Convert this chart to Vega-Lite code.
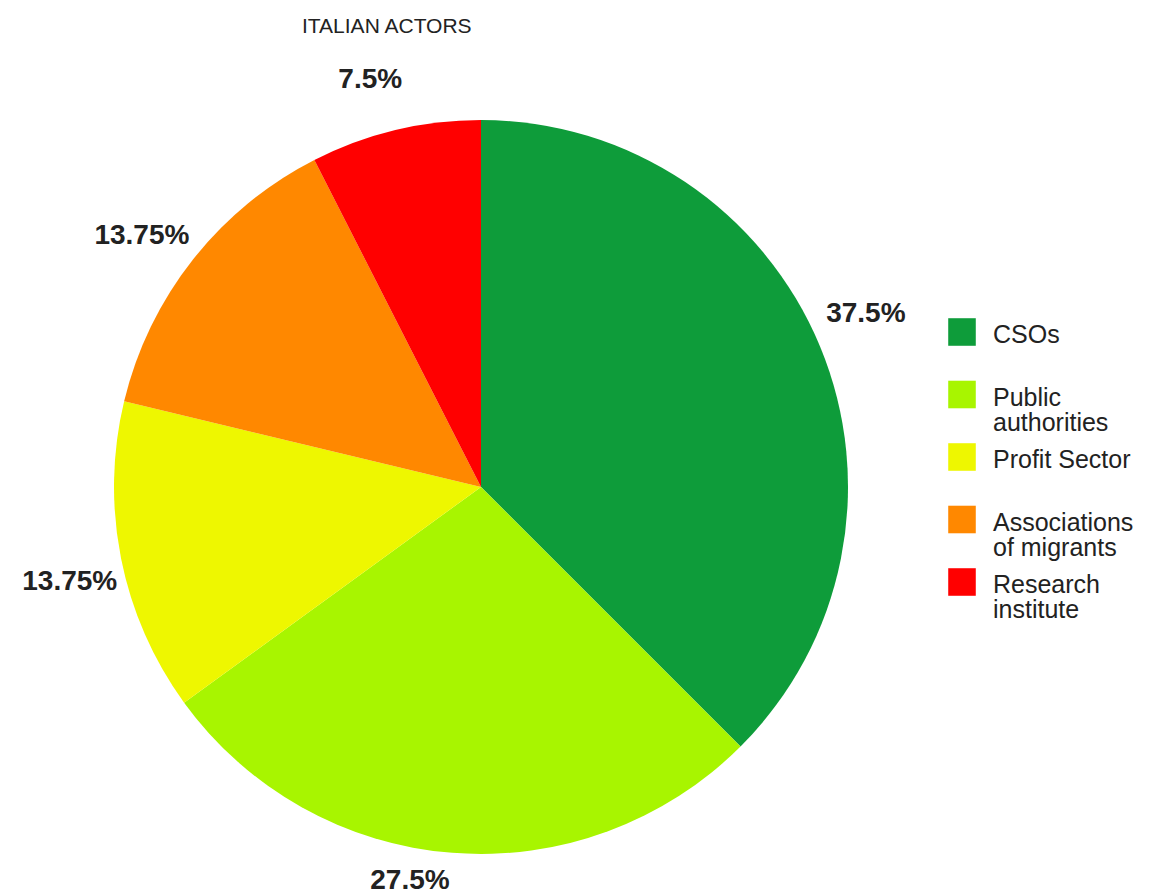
{
  "$schema": "https://vega.github.io/schema/vega-lite/v6.json",
  "autosize": {"type": "none"},
  "width": 962,
  "height": 818,
  "padding": {"left": 0, "top": 78, "right": 187, "bottom": 0},
  "background": "white",
  "config": {
    "style": {"guide-label": {"dy": 11, "lineHeight": 25}}
  },
  "title": {
    "text": "ITALIAN ACTORS",
    "anchor": "start",
    "frame": "group",
    "dx": 302,
    "offset": 12,
    "baseline": "alphabetic",
    "font": "Liberation Sans",
    "fontSize": 21,
    "fontWeight": "normal",
    "color": "#222222"
  },
  "data": {
    "values": [
      {"order": 1, "category": "CSOs", "value": 37.5, "label": "37.5%"},
      {"order": 2, "category": "Public authorities", "value": 27.5, "label": "27.5%"},
      {"order": 3, "category": "Profit Sector", "value": 13.75, "label": "13.75%"},
      {"order": 4, "category": "Associations of migrants", "value": 13.75, "label": "13.75%"},
      {"order": 5, "category": "Research institute", "value": 7.5, "label": "7.5%"}
    ]
  },
  "encoding": {
    "theta": {"field": "value", "type": "quantitative", "stack": true},
    "order": {"field": "order", "type": "quantitative", "sort": "ascending"}
  },
  "layer": [
    {
      "mark": {"type": "arc", "outerRadius": 367, "stroke": null},
      "encoding": {
        "color": {
          "field": "category",
          "type": "nominal",
          "scale": {
            "domain": ["CSOs", "Public authorities", "Profit Sector", "Associations of migrants", "Research institute"],
            "range": ["#0e9c3a", "#a8f500", "#eef700", "#ff8800", "#ff0000"]
          },
          "legend": {
            "title": null,
            "orient": "none",
            "legendX": 948,
            "legendY": 240,
            "symbolType": "square",
            "symbolSize": 760,
            "symbolStrokeWidth": 0,
            "symbolOpacity": 1,
            "labelFont": "Liberation Sans",
            "labelFontSize": 25,
            "labelColor": "#222222",
            "labelLimit": 300,
            "labelOffset": 17,
            "labelBaseline": "alphabetic",
            "gridAlign": "all",
            "rowPadding": 7.5,
            "labelExpr": "datum.label == 'Public authorities' ? ['Public', 'authorities'] : datum.label == 'Associations of migrants' ? ['Associations', 'of migrants'] : datum.label == 'Research institute' ? ['Research', 'institute'] : datum.label"
          }
        }
      }
    },
    {
      "mark": {
        "type": "text",
        "radius": 422,
        "thetaOffset": -0.03,
        "font": "Liberation Sans",
        "fontSize": 28,
        "fontWeight": "bold",
        "color": "#222222",
        "align": "center",
        "baseline": "middle"
      },
      "encoding": {
        "text": {"condition": {"test": "datum.order == 2", "value": ""}, "field": "label", "type": "nominal"}
      }
    },
    {
      "mark": {
        "type": "text",
        "radius": 400,
        "thetaOffset": 0.1,
        "font": "Liberation Sans",
        "fontSize": 28,
        "fontWeight": "bold",
        "color": "#222222",
        "align": "center",
        "baseline": "middle"
      },
      "encoding": {
        "text": {"condition": {"test": "datum.order != 2", "value": ""}, "field": "label", "type": "nominal"}
      }
    }
  ]
}
